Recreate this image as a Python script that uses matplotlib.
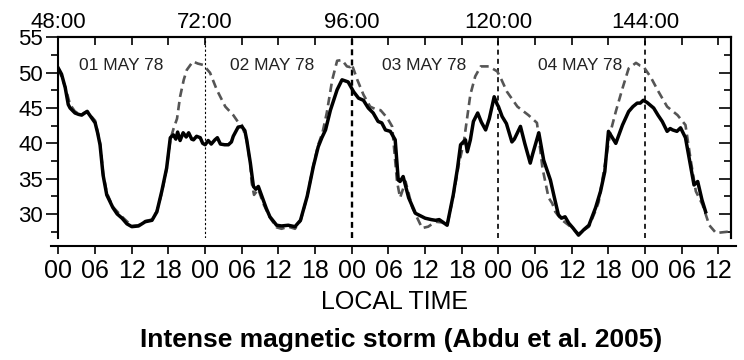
import matplotlib

matplotlib.use("Agg")
import matplotlib.pyplot as plt
from matplotlib.ticker import MultipleLocator

# hours counted from 00 LT of 01 May 1978 (storm time 48:00)
solid_hours = [
    0.0, 0.5, 1.1, 1.6, 1.9, 2.7, 3.3, 3.8, 4.3, 4.7, 5.1, 5.4, 6.0, 6.4, 6.8, 7.3, 7.9, 8.9, 9.6, 10.4,
    11.2, 12.0, 13.1, 14.2, 15.3, 16.1, 16.9, 17.7, 18.3, 18.8, 19.2, 19.5, 19.9, 20.4, 20.9, 21.3, 21.8,
    22.1, 22.6, 23.2, 23.6, 24.0, 24.5, 25.0, 25.6, 26.0, 26.5, 27.2, 27.8, 28.3, 28.6, 29.4, 30.0, 30.5,
    30.8, 31.4, 31.9, 32.3, 32.7, 33.5, 34.0, 34.6, 35.7, 36.5, 37.6, 38.7, 39.6, 40.7, 41.7, 42.5, 43.1,
    43.7, 44.5, 45.6, 46.4, 47.4, 48.3, 49.1, 49.9, 50.7, 51.5, 52.3, 52.9, 53.5, 54.3, 55.1, 55.6, 55.9,
    56.4, 57.3, 58.4, 60.0, 61.0, 61.7, 62.3, 62.8, 63.6, 64.6, 65.3, 65.8, 66.6, 66.9, 67.4, 67.9, 68.6,
    69.2, 69.9, 70.5, 71.3, 71.8, 72.0, 72.6, 73.3, 74.2, 74.6, 75.6, 76.3, 77.2, 77.6, 78.6, 79.4, 80.5,
    81.1, 81.8, 82.3, 82.9, 83.5, 84.2, 85.1, 86.0, 86.8, 87.9, 88.7, 89.4, 90.0, 90.5, 91.2, 92.3, 93.3,
    94.0, 94.7, 95.2, 95.7, 96.3, 97.4, 98.1, 98.8, 99.6, 100.1, 100.5, 101.2, 101.8, 102.6, 103.5, 104.0,
    104.6, 105.3, 105.9,
]
solid_f = [
    50.6, 49.8, 47.9, 45.5, 45.0, 44.3, 44.1, 44.0, 44.3, 44.5, 44.0, 43.6, 42.9, 41.5, 39.8, 35.5, 32.7,
    30.9, 30.0, 29.4, 28.6, 28.2, 28.3, 28.9, 29.1, 30.3, 33.2, 36.5, 40.8, 41.2, 40.6, 41.6, 40.4, 41.5,
    40.9, 41.5, 40.6, 40.5, 41.0, 40.8, 40.0, 39.8, 40.4, 39.9, 40.5, 40.8, 39.9, 39.8, 39.8, 40.2, 41.0,
    42.3, 42.4, 41.8, 40.5, 37.2, 33.9, 33.5, 33.9, 32.0, 30.8, 29.6, 28.4, 28.3, 28.4, 28.2, 29.1, 32.5,
    36.7, 39.5, 40.8, 41.9, 44.7, 47.6, 49.0, 48.7, 47.3, 46.4, 46.1, 45.0, 44.3, 43.1, 42.9, 41.9, 41.7,
    40.5, 34.8, 34.6, 35.3, 32.3, 30.1, 29.4, 29.2, 29.1, 29.2, 28.9, 28.4, 32.7, 36.5, 39.8, 40.5, 38.8,
    40.5, 43.1, 44.3, 43.0, 41.9, 43.5, 46.6, 45.5, 45.2, 43.8, 42.8, 40.2, 40.6, 42.4, 40.0, 37.2, 38.5,
    41.5, 37.6, 34.8, 32.5, 29.9, 29.4, 29.6, 28.7, 28.0, 27.0, 27.8, 28.4, 30.9, 33.2, 36.0, 41.7, 41.0,
    40.0, 42.6, 44.5, 45.2, 45.7, 45.7, 46.1, 45.8, 45.0, 44.0, 43.1, 41.7, 42.1, 41.9, 41.7, 42.2, 40.8,
    36.5, 34.1, 34.6, 32.0, 30.3,
]

dashed_hours = [
    0.0, 1.1, 1.9, 2.7, 3.8, 4.7, 5.4, 6.0, 6.8, 7.3, 7.9, 8.9, 10.4, 12.0, 13.1, 14.2, 15.3, 16.1, 16.9,
    17.7, 18.3, 18.8, 19.4, 19.9, 20.5, 21.0, 22.0, 22.8, 23.7, 24.8, 25.9, 27.3, 28.6, 29.4, 30.0, 30.8,
    31.4, 31.6, 32.0, 32.7, 33.5, 34.6, 35.7, 36.5, 37.6, 38.7, 39.6, 40.7, 41.7, 42.5, 43.2, 43.9, 44.8,
    45.6, 46.4, 47.2, 47.7, 48.0, 48.9, 49.9, 51.0, 52.0, 52.7, 53.8, 54.6, 55.4, 55.9, 56.8, 57.9, 59.5,
    60.5, 61.7, 62.8, 63.6, 64.6, 65.5, 66.3, 67.4, 68.2, 69.1, 70.4, 71.8, 72.5, 73.4, 75.1, 76.9, 78.3,
    79.2, 80.2, 80.8, 81.3, 82.3, 83.5, 85.1, 86.8, 87.9, 88.4, 89.5, 90.3, 91.2, 92.3, 93.3, 94.5, 95.2,
    95.7, 96.9, 98.2, 99.6, 101.3, 102.6, 103.5, 104.3, 105.4, 106.5, 107.6, 109.7,
]
dashed_f = [
    50.6, 48.0, 45.5, 44.5, 44.1, 44.6, 43.8, 43.2, 40.0, 35.8, 33.0, 31.0, 29.6, 28.3, 28.4, 29.0, 29.2,
    30.4, 33.0, 36.4, 40.5, 42.0, 43.5, 46.6, 49.0, 50.4, 51.6, 51.3, 51.1, 50.0, 47.6, 45.2, 44.0, 43.0,
    42.6, 40.5, 37.0, 34.5, 32.7, 33.5, 31.5, 29.5, 28.1, 27.9, 28.2, 27.9, 29.0, 32.5, 36.8, 39.8, 41.5,
    44.3, 49.0, 51.7, 51.8, 50.9, 50.8, 51.2, 49.0, 46.9, 45.2, 44.8, 44.7, 43.6, 42.4, 34.6, 32.3, 34.6,
    30.9, 28.0, 28.2, 28.9, 28.8, 28.4, 32.5, 37.0, 40.0, 46.9, 49.5, 50.9, 50.9, 50.2, 49.0, 47.3, 45.2,
    44.0, 42.9, 36.5, 32.3, 31.5, 30.3, 29.2, 28.4, 27.2, 28.2, 30.5, 31.7, 37.4, 41.5, 44.5, 47.8, 50.6,
    51.4, 51.0, 50.9, 49.4, 47.3, 45.2, 44.0, 42.6, 37.4, 33.2, 31.3, 28.4, 27.3, 27.5,
]

day_labels = ["01 MAY 78", "02 MAY 78", "03 MAY 78", "04 MAY 78"]
day_label_x = [3.3, 28.0, 53.0, 78.5]
midnights = [24, 48, 72, 96]
storm_offset = 48
lt_labels = ["00", "06", "12", "18"]

narrow = ["Liberation Sans Narrow", "Liberation Sans", "DejaVu Sans"]
plt.rcParams["font.family"] = ["Liberation Sans", "DejaVu Sans"]

fig = plt.figure(figsize=(7.44, 3.6), dpi=100)
ax = fig.add_axes([0.0786, 0.339, 0.9035, 0.557])

ax.plot(dashed_hours, dashed_f, color="#555555", lw=1.9, dashes=(3.2, 1.9), zorder=2)
ax.plot(solid_hours, solid_f, color="black", lw=2.5, zorder=3)

# midnight markers, each drawn a little differently
vstyles = [(0.8, (2.0, 2.0)), (1.7, (2.5, 1.8)), (1.2, (3.0, 2.5)), (1.2, (3.0, 2.5))]
for h, (lw, ds) in zip(midnights, vstyles):
    ax.axvline(h, color="black", lw=lw, dashes=ds, zorder=1)

for x, lab in zip(day_label_x, day_labels):
    ax.text(x, 51.0, lab, fontsize=12.5, color="#222222", va="center", ha="left")

ax.set_xlim(0, 110)
ax.set_ylim(26.6, 55)

# bottom axis sits a little below the frame (set before labels: this resets ticks)
ax.spines["bottom"].set_position(("outward", 6))
ax.spines["bottom"].set_bounds(-1.3, 110.8)

# bottom: local time every 6 h
ticks = list(range(0, 109, 6))
ax.set_xticks(ticks)
ax.set_xticklabels([lt_labels[i % 4] for i in range(len(ticks))], family=narrow, fontsize=18)
ax.tick_params(axis="x", direction="out", length=6, width=1.2, pad=3)

# left: outward major/minor ticks
ax.yaxis.set_major_locator(MultipleLocator(5))
ax.yaxis.set_minor_locator(MultipleLocator(2.5))
ax.tick_params(axis="y", which="major", direction="out", length=9, width=1.2, labelsize=16, pad=2)
ax.tick_params(axis="y", which="minor", direction="out", length=5, width=1.2)

# right: inward ticks without labels
sec_r = ax.secondary_yaxis("right")
sec_r.yaxis.set_major_locator(MultipleLocator(5))
sec_r.yaxis.set_minor_locator(MultipleLocator(2.5))
sec_r.tick_params(which="major", direction="in", length=9, width=1.2, labelright=False)
sec_r.tick_params(which="minor", direction="in", length=5, width=1.2)

# top: storm time
sec_t = ax.secondary_xaxis("top", functions=(lambda x: x + storm_offset, lambda x: x - storm_offset))
sec_t.set_xticks([48, 72, 96, 120, 144])
sec_t.set_xticklabels(["48:00", "72:00", "96:00", "120:00", "144:00"], fontsize=16)
sec_t.xaxis.set_minor_locator(MultipleLocator(6))
sec_t.tick_params(which="both", direction="in", length=6, width=1.2, pad=3)

for s in ax.spines.values():
    s.set_linewidth(1.5)
for sec in (sec_r, sec_t):
    for s in sec.spines.values():
        s.set_linewidth(1.5)

ax.set_xlabel("LOCAL TIME", family=narrow, fontsize=18, labelpad=5)
fig.text(0.539, 0.055, "Intense magnetic storm (Abdu et al. 2005)", family=narrow,
         fontsize=19, fontweight="bold", ha="center", va="center")

fig.savefig("out.png", dpi=100)
